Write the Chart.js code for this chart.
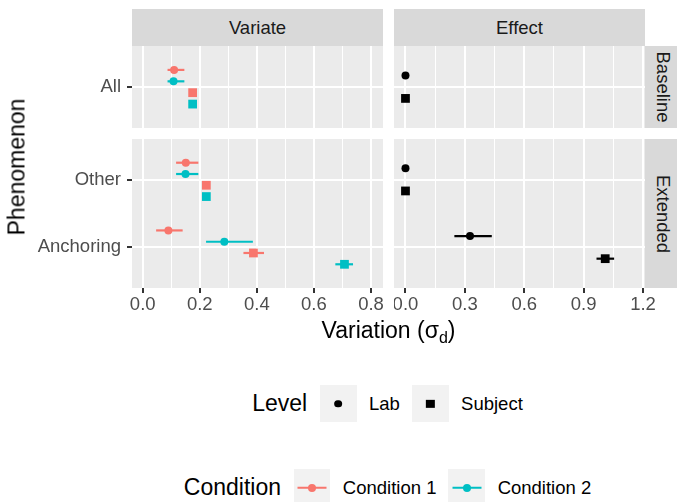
<!DOCTYPE html>
<html>
<head>
<meta charset="utf-8">
<script src="https://cdn.jsdelivr.net/npm/chart.js@4.4.0/dist/chart.umd.min.js"></script>
<style>
body { margin: 0; background: #fff; font-family: 'Liberation Sans', Arial, sans-serif; }
#wrap { position: relative; width: 677px; height: 502px; overflow: hidden; }
.panel { position: absolute; }
.strip { position: absolute; background: #D9D9D9; color: #1A1A1A; font-size: 18.5px;
  display: flex; align-items: center; justify-content: center; white-space: nowrap; }
.strip.side span { transform: rotate(90deg); }
.title { position: absolute; font-size: 23px; color: #000; white-space: nowrap; transform: translate(-50%, -50%); }
.legend { position: absolute; left: 105px; width: 577px; height: 37px; display: flex;
  align-items: center; justify-content: center; white-space: nowrap; }
.legend .ltitle { font-size: 23px; margin-right: 12.7px; }
.legend .lkey { width: 36.7px; height: 36.7px; background: #F2F2F2; position: relative; margin-right: 12.5px; flex: none; }
.legend .llab { font-size: 18.5px; margin-right: 12px; }
.mark { position: absolute; left: 50%; top: 50%; transform: translate(-50%, -50%); }
</style>
</head>
<body>
<div id="wrap"></div>
<script>
var conditions = ['Condition 1', 'Condition 2'];
var conditionColors = ['#F8766D', '#00BFC4'];
var levels = ['Lab', 'Subject'];
var phenomena = ['All', 'Other', 'Anchoring'];
var facetOf = ['Baseline', 'Extended', 'Extended'];
var baselineRows = ['All'];
var extendedRows = ['Anchoring', 'Other'];

// Variate, condition 1
var varLab1 = [0.110, 0.151, 0.090];
var varLab1Lo = [0.087, 0.117, 0.047];
var varLab1Hi = [0.146, 0.195, 0.140];
var varSubj1 = [0.175, 0.223, 0.388];
var varSubj1Lo = [null, null, 0.353];
var varSubj1Hi = [null, null, 0.425];
// Variate, condition 2
var varLab2 = [0.108, 0.150, 0.286];
var varLab2Lo = [0.087, 0.117, 0.222];
var varLab2Hi = [0.146, 0.195, 0.386];
var varSubj2 = [0.175, 0.223, 0.707];
var varSubj2Lo = [null, null, 0.675];
var varSubj2Hi = [null, null, 0.737];
// Effect
var effLab = [0, 0, 0.326];
var effLabLo = [null, null, 0.247];
var effLabHi = [null, null, 0.436];
var effSubj = [0, 0, 1.009];
var effSubjLo = [null, null, 0.965];
var effSubjHi = [null, null, 1.054];

var variateTicks = [0, 0.2, 0.4, 0.6, 0.8];
var variateMinor = [0.1, 0.3, 0.5, 0.7];
var effectTicks = [0, 0.3, 0.6, 0.9, 1.2];
var effectMinor = [0.15, 0.45, 0.75, 1.05];

Chart.defaults.font.family = "'Liberation Sans', Arial, sans-serif";

var wrap = document.getElementById('wrap');

function points(vals, lo, hi, facet, rows, shift) {
    var out = [];
    for (var i = 0; i < phenomena.length; i++) {
        if (facetOf[i] !== facet) continue;
        out.push({x: vals[i], y: rows.indexOf(phenomena[i]) + 1 + shift, lo: lo[i], hi: hi[i]});
    }
    return out;
}

function ds(data, color, style) {
    return {
        data: data,
        backgroundColor: color,
        pointStyle: style,
        pointRadius: style === 'rect' ? 6.2 : 4,
        pointBorderWidth: 0,
        showLine: false
    };
}

// horizontal error bars drawn under the points
var errorBars = {
    id: 'errorBars',
    beforeDatasetsDraw: function (chart) {
        var c = chart.ctx;
        var xs = chart.scales.x, ys = chart.scales.y;
        chart.data.datasets.forEach(function (d) {
            d.data.forEach(function (p) {
                if (p.lo == null) return;
                var y = ys.getPixelForValue(p.y);
                c.save();
                c.strokeStyle = d.backgroundColor;
                c.lineWidth = 2.2;
                c.beginPath();
                c.moveTo(xs.getPixelForValue(p.lo), y);
                c.lineTo(xs.getPixelForValue(p.hi), y);
                c.stroke();
                c.restore();
            });
        });
    }
};

var panelBg = {
    id: 'panelBg',
    beforeDraw: function (chart) {
        var a = chart.chartArea;
        chart.ctx.save();
        chart.ctx.fillStyle = '#EBEBEB';
        chart.ctx.fillRect(a.left, a.top, a.right - a.left, a.bottom - a.top);
        chart.ctx.restore();
    }
};

function isIn(list, v) {
    return list.some(function (m) { return Math.abs(m - v) < 1e-9; });
}

function noPad(s) {
    s.paddingTop = 0;
    s.paddingBottom = 0;
    s.paddingLeft = 0;
    s.paddingRight = 0;
}

function panel(left, top, w, h, padRight, facet, rows, variate, showX, showY) {
    var box = document.createElement('div');
    box.className = 'panel';
    box.style.left = left + 'px';
    box.style.top = top + 'px';
    var cv = document.createElement('canvas');
    cv.width = w;
    cv.height = h;
    cv.style.width = w + 'px';
    cv.style.height = h + 'px';
    box.appendChild(cv);
    wrap.appendChild(box);

    var major = variate ? variateTicks : effectTicks;
    var minor = variate ? variateMinor : effectMinor;
    var datasets;
    if (variate) {
        datasets = [
            ds(points(varLab1, varLab1Lo, varLab1Hi, facet, rows, 0.25), conditionColors[0], 'circle'),
            ds(points(varLab2, varLab2Lo, varLab2Hi, facet, rows, 0.083), conditionColors[1], 'circle'),
            ds(points(varSubj1, varSubj1Lo, varSubj1Hi, facet, rows, -0.083), conditionColors[0], 'rect'),
            ds(points(varSubj2, varSubj2Lo, varSubj2Hi, facet, rows, -0.25), conditionColors[1], 'rect')
        ];
    } else {
        datasets = [
            ds(points(effLab, effLabLo, effLabHi, facet, rows, 0.167), '#000000', 'circle'),
            ds(points(effSubj, effSubjLo, effSubjHi, facet, rows, -0.167), '#000000', 'rect')
        ];
    }

    return new Chart(cv.getContext('2d'), {
        type: 'scatter',
        data: {datasets: datasets},
        plugins: [panelBg, errorBars],
        options: {
            responsive: false,
            animation: false,
            events: [],
            layout: {autoPadding: false, padding: {left: 0, right: padRight, top: 0, bottom: 0}},
            plugins: {legend: {display: false}, tooltip: {enabled: false}},
            scales: {
                x: {
                    type: 'linear',
                    min: variate ? -0.0375 : -0.058,
                    max: variate ? 0.842 : 1.21,
                    afterBuildTicks: function (s) {
                        s.ticks = major.concat(minor).sort(function (a, b) { return a - b; })
                            .map(function (v) { return {value: v}; });
                    },
                    afterFit: function (s) { s.height = showX ? 30 : 0; noPad(s); },
                    border: {display: false},
                    grid: {
                        color: '#FFFFFF',
                        lineWidth: function (c) { return c.tick && isIn(major, c.tick.value) ? 2 : 1; },
                        drawTicks: showX,
                        tickLength: 5,
                        tickWidth: 2,
                        tickColor: function (c) { return c.tick && isIn(major, c.tick.value) ? '#333333' : 'rgba(0,0,0,0)'; }
                    },
                    ticks: {
                        display: showX,
                        autoSkip: false,
                        maxRotation: 0,
                        padding: 1,
                        color: '#4D4D4D',
                        font: {size: 18.5},
                        callback: function (v) { return isIn(major, v) ? v.toFixed(1) : ''; }
                    }
                },
                y: {
                    type: 'linear',
                    min: 0.4,
                    max: rows.length + 0.6,
                    afterBuildTicks: function (s) {
                        s.ticks = rows.map(function (r, i) { return {value: i + 1}; });
                    },
                    afterFit: function (s) { s.width = showY ? 112 : 0; noPad(s); },
                    border: {display: false},
                    grid: {color: '#FFFFFF', lineWidth: 2, drawTicks: showY, tickLength: 5, tickWidth: 2, tickColor: '#333333'},
                    ticks: {
                        display: showY,
                        padding: 6,
                        color: '#4D4D4D',
                        font: {size: 18.5},
                        callback: function (v) { return rows[Math.round(v) - 1] || ''; }
                    }
                }
            }
        }
    });
}

panel(20, 46, 373, 82, 10, 'Baseline', baselineRows, true, false, true);
panel(20, 139, 373, 179, 10, 'Extended', extendedRows, true, true, true);
panel(394, 46, 251, 82, 0, 'Baseline', baselineRows, false, false, false);
panel(394, 139, 271, 179, 20, 'Extended', extendedRows, false, true, false);

function addDiv(cls, html, css) {
    var d = document.createElement('div');
    d.className = cls;
    d.innerHTML = html;
    for (var k in css) d.style[k] = css[k];
    wrap.appendChild(d);
    return d;
}

// facet strips
addDiv('strip', '<span>Variate</span>', {left: '132px', top: '9px', width: '251px', height: '37px'});
addDiv('strip', '<span>Effect</span>', {left: '394px', top: '9px', width: '251px', height: '37px'});
addDiv('strip side', '<span>Baseline</span>', {left: '645px', top: '46px', width: '37px', height: '82px'});
addDiv('strip side', '<span>Extended</span>', {left: '645px', top: '139px', width: '37px', height: '149px'});

// axis titles
addDiv('title', 'Variation (&sigma;<sub style="font-size:16px">d</sub>)', {left: '388.5px', top: '332px'});
addDiv('title', 'Phenomenon', {left: '17px', top: '167px', transform: 'translate(-50%, -50%) rotate(-90deg)'});

// legends
function legendRow(top, title, labels, keyHtml) {
    var row = addDiv('legend', '', {top: top + 'px'});
    var t = document.createElement('span');
    t.className = 'ltitle';
    t.textContent = title;
    row.appendChild(t);
    labels.forEach(function (lab, i) {
        var k = document.createElement('div');
        k.className = 'lkey';
        k.innerHTML = keyHtml(i);
        row.appendChild(k);
        var l = document.createElement('span');
        l.className = 'llab';
        l.textContent = lab;
        row.appendChild(l);
    });
}

legendRow(385, 'Level', levels, function (i) {
    return i === 0
        ? '<div class="mark" style="width:7.7px;height:7.7px;border-radius:50%;background:#000"></div>'
        : '<div class="mark" style="width:8.3px;height:8.3px;background:#000"></div>';
});
legendRow(469, 'Condition', conditions, function (i) {
    return '<div class="mark" style="width:29px;height:2.5px;background:' + conditionColors[i] + '"></div>' +
        '<div class="mark" style="width:8px;height:8px;border-radius:50%;background:' + conditionColors[i] + '"></div>';
});
</script>
</body>
</html>
